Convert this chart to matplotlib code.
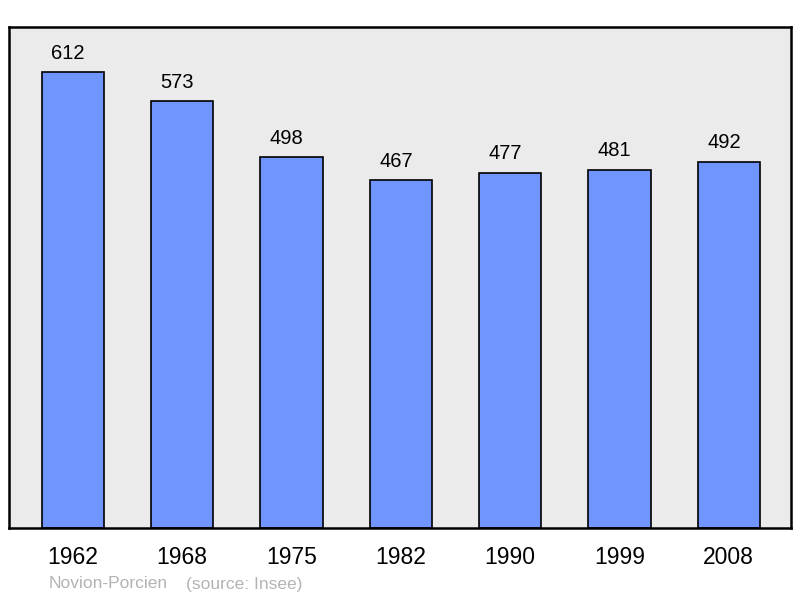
import matplotlib
matplotlib.use("Agg")
import matplotlib.pyplot as plt

years = ["1962", "1968", "1975", "1982", "1990", "1999", "2008"]
population = [612, 573, 498, 467, 477, 481, 492]

plt.rcParams['font.family'] = ['Liberation Sans', 'DejaVu Sans']

fig = plt.figure(figsize=(8, 5.98), dpi=100)
ax = fig.add_axes([0.01125, 0.117, 0.9775, 0.8378])
ax.set_facecolor('#ebebeb')

x = list(range(len(years)))
bars = ax.bar(x, population, width=0.57, color='#7095ff', edgecolor='black', linewidth=1.2, zorder=2)

# value labels above each bar (sit a little left of centre in the original)
for xi, v in zip(x, population):
    ax.annotate(str(v), (xi, v), xytext=(-3.5, 7), textcoords='offset points',
                ha='center', va='bottom', fontsize=14.5, color='black')

ax.set_xlim(-0.585, 6.57)
ax.set_ylim(0, 673)
ax.set_xticks(x)
ax.set_xticklabels(years, fontsize=16.5)
ax.tick_params(axis='x', length=0, pad=13)
ax.set_yticks([])
for s in ax.spines.values():
    s.set_linewidth(1.8)
    s.set_color('black')

fig.text(49 / 800, 1 - 584 / 598, "Novion-Porcien", fontsize=12.5, color='#b3b3b3', va='center')
fig.text(186 / 800, 1 - 584 / 598, "(source: Insee)", fontsize=12.5, color='#b3b3b3', va='center')

fig.savefig("out.png", dpi=100)
